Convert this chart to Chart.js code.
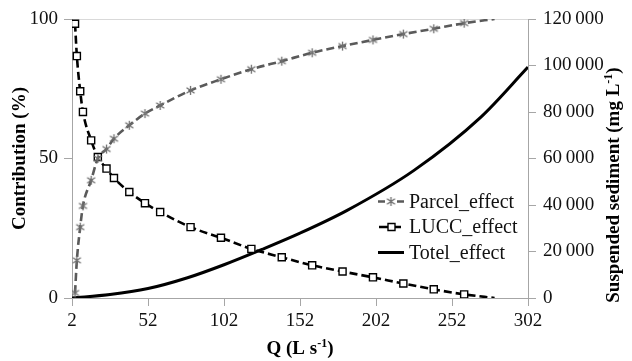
<!DOCTYPE html>
<html>
<head>
<meta charset="utf-8">
<script src="https://cdn.jsdelivr.net/npm/chart.js@4/dist/chart.umd.min.js"></script>
<style>
html, body { margin: 0; padding: 0; background: #fff; }
canvas { display: block; }
</style>
</head>
<body>
<canvas id="chart" width="632" height="361"></canvas>
<script>
// Discharge (L s-1) at which the contribution series are sampled
const qMarkers = [4, 5.2, 7.4, 9.2, 14.6, 19, 24.7, 29.6, 39.7, 50, 60, 80, 100, 120, 140, 160, 180, 200, 220, 240, 260, 280];
// Contribution (%) of each effect
const parcelEffect = [1.8, 13.5, 25.4, 33, 42.2, 50, 53.4, 57.1, 61.9, 66.1, 69, 74.4, 78.4, 82, 84.9, 87.9, 90.3, 92.5, 94.6, 96.5, 98.5, 100];
const luccEffect = [98.3, 86.7, 74.1, 66.7, 56.5, 50.5, 46.4, 43, 38, 34, 30.8, 25.4, 21.6, 17.6, 14.6, 11.7, 9.5, 7.4, 5.2, 3.1, 1.3, 0];
// Suspended sediment (mg L-1) of the total effect
const qTotal = [2, 27, 52, 78, 102, 127, 152, 183, 227, 271, 302];
const totalEffect = [0, 1460, 4050, 8700, 14300, 20900, 27900, 37700, 54900, 77800, 99300];

const xTicks = [2, 52, 102, 152, 202, 252, 302];
const seriesNames = ['Parcel_effect', 'LUCC_effect', 'Totel_effect'];

const SERIF = '"Liberation Serif", "Times New Roman", serif';
const AXIS_GREY = '#a6a6a6';
const PARCEL_GREY = '#5a5a5a';
const PARCEL_MARK = '#6e6e6e';

// Six-armed asterisk marker
function makeAsterisk() {
  const c = document.createElement('canvas');
  c.width = 11; c.height = 11;
  const g = c.getContext('2d');
  g.strokeStyle = PARCEL_MARK;
  g.lineWidth = 1.3;
  g.beginPath();
  g.moveTo(5.5, 1); g.lineTo(5.5, 10);
  g.moveTo(1.5, 2.8); g.lineTo(9.5, 8.2);
  g.moveTo(9.5, 2.8); g.lineTo(1.5, 8.2);
  g.stroke();
  return c;
}
const asterisk = makeAsterisk();

const toXY = (xs, ys) => xs.map((x, i) => ({ x: x, y: ys[i] }));
const lastIdx = qMarkers.length - 1;

function groupThousands(v) {
  return String(v).replace(/\B(?=(\d{3})+(?!\d))/g, '\u2009');
}

// Draws text with a "-1" superscript piece; parts: [[text, isSup], ...]
function drawRich(ctx, parts, size) {
  const base = 'bold ' + size + 'px ' + SERIF;
  const sup = 'bold ' + Math.round(size * 0.62) + 'px ' + SERIF;
  let w = 0;
  parts.forEach(p => { ctx.font = p[1] ? sup : base; w += ctx.measureText(p[0]).width; });
  let x = -w / 2;
  parts.forEach(p => {
    ctx.font = p[1] ? sup : base;
    ctx.fillText(p[0], x, p[1] ? -size * 0.38 : 0);
    x += ctx.measureText(p[0]).width;
  });
}

const decorations = {
  id: 'decorations',
  afterDraw(chart) {
    const ctx = chart.ctx;
    const area = chart.chartArea;
    ctx.save();
    ctx.fillStyle = '#000';
    ctx.textAlign = 'left';
    ctx.textBaseline = 'alphabetic';

    // x-axis title
    ctx.save();
    ctx.translate((area.left + area.right) / 2, 354);
    drawRich(ctx, [['Q (L s', false], ['-1', true], [')', false]], 19);
    ctx.restore();

    // left axis title
    ctx.save();
    ctx.translate(25, (area.top + area.bottom) / 2);
    ctx.rotate(-Math.PI / 2);
    drawRich(ctx, [['Contribution (%)', false]], 19);
    ctx.restore();

    // right axis title
    ctx.save();
    ctx.translate(619, 185);
    ctx.rotate(-Math.PI / 2);
    drawRich(ctx, [['Suspended sediment (mg L', false], ['-1', true], [')', false]], 19);
    ctx.restore();

    // legend
    const lx0 = 378, lx1 = 404, tx = 409;
    const rows = [201.5, 227, 252.5];
    ctx.font = '20px ' + SERIF;
    rows.forEach((y, i) => {
      ctx.save();
      ctx.lineCap = 'butt';
      if (i === 0) {
        ctx.strokeStyle = PARCEL_GREY;
        ctx.lineWidth = 2.5;
        ctx.beginPath();
        ctx.moveTo(lx0, y); ctx.lineTo(lx0 + 7, y);
        ctx.moveTo(lx1 - 7, y); ctx.lineTo(lx1, y);
        ctx.stroke();
        ctx.drawImage(asterisk, (lx0 + lx1) / 2 - 5.5, y - 5.5);
      } else if (i === 1) {
        ctx.strokeStyle = '#000';
        ctx.lineWidth = 2.5;
        ctx.beginPath();
        ctx.moveTo(lx0 + 1, y); ctx.lineTo(lx1 - 3, y);
        ctx.stroke();
        ctx.fillStyle = '#fff';
        ctx.lineWidth = 1.4;
        ctx.beginPath();
        ctx.rect((lx0 + lx1) / 2 - 3, y - 3.5, 7, 7);
        ctx.fill();
        ctx.stroke();
      } else {
        ctx.strokeStyle = '#000';
        ctx.lineWidth = 3;
        ctx.beginPath();
        ctx.moveTo(lx0, y); ctx.lineTo(lx1, y);
        ctx.stroke();
      }
      ctx.restore();
      ctx.fillStyle = '#111';
      ctx.fillText(seriesNames[i], tx, y + 6);
    });
    ctx.restore();
  }
};

new Chart(document.getElementById('chart'), {
  type: 'scatter',
  data: {
    datasets: [
      {
        label: seriesNames[0],
        data: toXY(qMarkers, parcelEffect),
        yAxisID: 'y',
        showLine: true,
        borderColor: PARCEL_GREY,
        borderWidth: 2.6,
        borderDash: [8, 4],
        tension: 0.4,
        cubicInterpolationMode: 'monotone',
        pointStyle: asterisk,
        pointRadius: ctx => ctx.dataIndex === lastIdx ? 0 : 5,
        order: 1
      },
      {
        label: seriesNames[1],
        data: toXY(qMarkers, luccEffect),
        yAxisID: 'y',
        showLine: true,
        borderColor: '#000',
        borderWidth: 2.6,
        borderDash: [8, 4],
        tension: 0.4,
        cubicInterpolationMode: 'monotone',
        pointStyle: 'rect',
        pointRadius: ctx => ctx.dataIndex === lastIdx ? 0 : 5,
        pointBackgroundColor: '#fff',
        pointBorderColor: '#000',
        pointBorderWidth: 1.4,
        order: 2
      },
      {
        label: seriesNames[2],
        data: toXY(qTotal, totalEffect),
        yAxisID: 'y2',
        showLine: true,
        borderColor: '#000',
        borderWidth: 3,
        tension: 0.4,
        cubicInterpolationMode: 'monotone',
        pointRadius: 0,
        order: 3
      }
    ]
  },
  options: {
    responsive: false,
    animation: false,
    devicePixelRatio: 1,
    layout: { padding: { top: 19, left: 0, right: 0, bottom: 0 } },
    plugins: {
      legend: { display: false },
      tooltip: { enabled: false }
    },
    scales: {
      x: {
        type: 'linear',
        position: 'bottom',
        min: 2,
        max: 302,
        afterBuildTicks: s => { s.ticks = xTicks.map(v => ({ value: v })); },
        afterFit: s => { s.height = 63; },
        grid: { drawOnChartArea: false, tickColor: AXIS_GREY, tickLength: 8 },
        border: { color: AXIS_GREY },
        ticks: { color: '#111', font: { family: SERIF, size: 19 }, padding: 4, maxRotation: 0, autoSkip: false }
      },
      y: {
        type: 'linear',
        position: 'left',
        min: 0,
        max: 100,
        ticks: { stepSize: 50, color: '#111', font: { family: SERIF, size: 19 }, padding: 6 },
        afterFit: s => { s.width = 72; },
        grid: {
          color: c => (c.tick && c.tick.value === 100) ? '#d9d9d9' : 'rgba(0,0,0,0)',
          tickColor: AXIS_GREY,
          tickLength: 8
        },
        border: { color: AXIS_GREY }
      },
      y2: {
        type: 'linear',
        position: 'right',
        min: 0,
        max: 120000,
        ticks: {
          stepSize: 20000, color: '#111', font: { family: SERIF, size: 19 }, padding: 7,
          callback: v => groupThousands(v)
        },
        afterFit: s => { s.width = 104; },
        grid: { drawOnChartArea: false, tickColor: AXIS_GREY, tickLength: 8 },
        border: { color: AXIS_GREY }
      }
    }
  },
  plugins: [decorations]
});
</script>
</body>
</html>
